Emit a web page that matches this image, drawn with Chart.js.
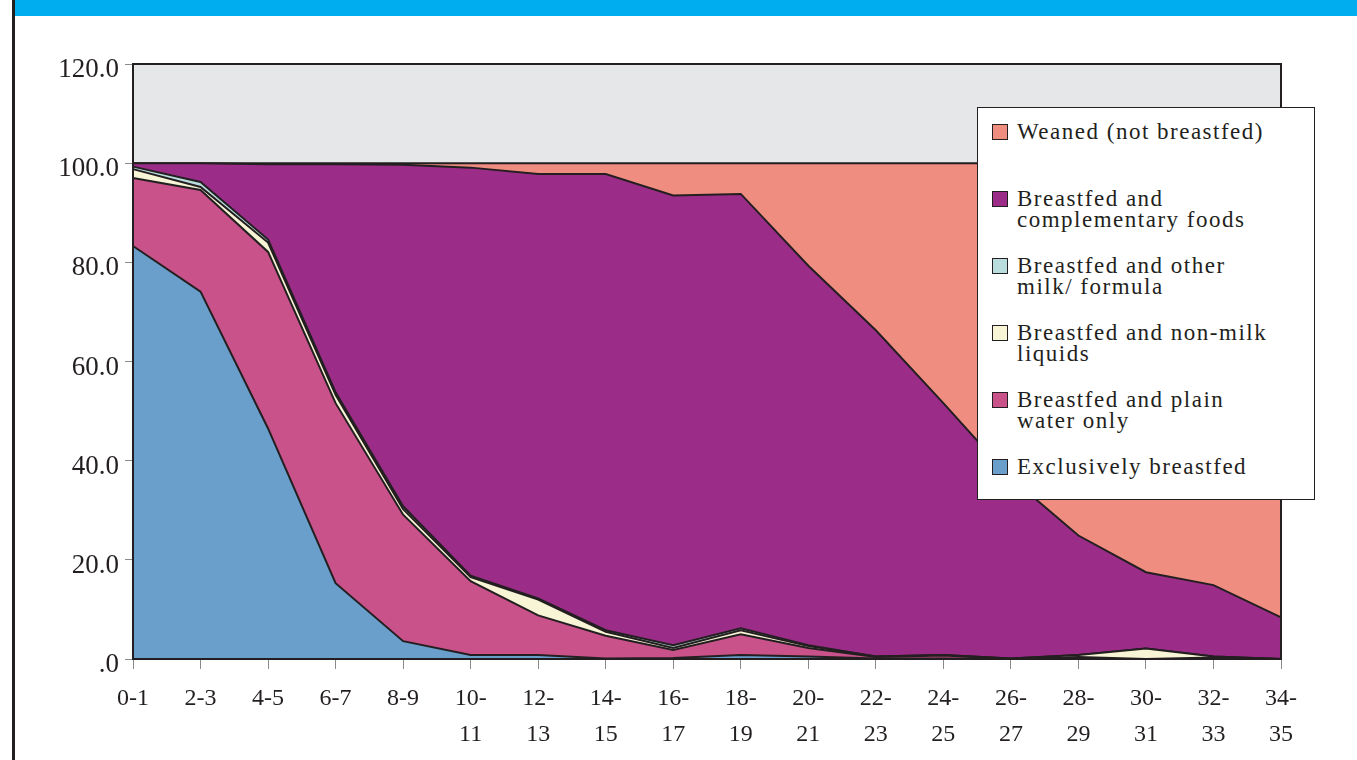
<!DOCTYPE html>
<html>
<head>
<meta charset="utf-8">
<script src="https://cdn.jsdelivr.net/npm/chart.js@4"></script>
<style>
  body { margin: 0; background: #fff; }
  #wrap { position: relative; width: 1357px; height: 760px; overflow: hidden; }
  #topbar { position: absolute; left: 15px; top: 0; width: 1342px; height: 16px; background: #00aeef; }
  #edge { position: absolute; left: 12px; top: 0; width: 3px; height: 760px; background: #231f20; }
  canvas { position: absolute; left: 0; top: 0; }
  #legend { position: absolute; left: 977px; top: 107px; width: 336px; height: 391px; background: #fff;
            border: 1px solid #231f20; font-family: 'Liberation Serif', serif; font-size: 23px;
            letter-spacing: 1.5px; color: #231f20; }
  .item { position: absolute; left: 39px; line-height: 21px; }
  .sw { position: absolute; left: -25px; top: 3px; width: 14px; height: 14px; border: 1.5px solid #231f20; }
</style>
</head>
<body>
<div id="wrap">
  <div id="topbar"></div>
  <div id="edge"></div>
  <canvas id="feedChart" width="1357" height="760"></canvas>
  <div id="legend"></div>
</div>
<script>
// age groups in months
const ageGroups = ['0-1', '2-3', '4-5', '6-7', '8-9', ['10-', '11'], ['12-', '13'], ['14-', '15'], ['16-', '17'],
    ['18-', '19'], ['20-', '21'], ['22-', '23'], ['24-', '25'], ['26-', '27'], ['28-', '29'], ['30-', '31'],
    ['32-', '33'], ['34-', '35']];

// percent of children in each feeding category (stacked to 100)
const exclusive     = [83.3, 74.1, 46.5, 15.3, 3.6, 0.8, 0.8, 0.1, 0.2, 0.8, 0.5, 0.1, 0.1, 0.0, 0.0, 0.0, 0.0, 0.0];
const plainWater    = [13.7, 20.5, 35.6, 36.3, 25.5, 14.9, 8.0, 4.6, 1.6, 4.2, 1.7, 0.3, 0.6, 0.0, 0.4, 0.0, 0.3, 0.0];
const nonMilk       = [1.8, 0.6, 1.9, 1.7, 1.1, 0.8, 3.2, 0.8, 0.4, 0.8, 0.4, 0.1, 0.1, 0.1, 0.4, 2.1, 0.2, 0.0];
const otherMilk     = [0.5, 1.0, 0.6, 0.5, 0.6, 0.3, 0.2, 0.3, 0.6, 0.4, 0.2, 0.0, 0.0, 0.0, 0.0, 0.0, 0.0, 0.0];
const complementary = [0.7, 3.8, 15.2, 46.0, 68.9, 82.3, 85.6, 92.0, 90.7, 87.6, 76.5, 65.8, 50.8, 36.4, 24.1, 15.4, 14.4, 8.4];
const weaned        = [0.0, 0.0, 0.2, 0.2, 0.3, 0.9, 2.2, 2.2, 6.5, 6.2, 20.7, 33.7, 48.4, 63.5, 75.1, 82.5, 85.1, 91.6];

const yTicks = [0, 20, 40, 60, 80, 100, 120];

const series = [
    { label: 'Exclusively breastfed', data: exclusive, color: '#6a9fcb' },
    { label: 'Breastfed and plain water only', data: plainWater, color: '#c85289' },
    { label: 'Breastfed and non-milk liquids', data: nonMilk, color: '#f8f4d6' },
    { label: 'Breastfed and other milk/ formula', data: otherMilk, color: '#b9dcdd' },
    { label: 'Breastfed and complementary foods', data: complementary, color: '#9b2d89' },
    { label: 'Weaned (not breastfed)', data: weaned, color: '#ee8d80' }
];

// legend text split the way the original wraps it
const legendLines = {
    'Breastfed and complementary foods': ['Breastfed and', 'complementary foods'],
    'Breastfed and other milk/ formula': ['Breastfed and other', 'milk/ formula'],
    'Breastfed and non-milk liquids': ['Breastfed and non-milk', 'liquids'],
    'Breastfed and plain water only': ['Breastfed and plain', 'water only']
};

const plotBackground = {
    id: 'plotBackground',
    beforeDraw(chart) {
        const a = chart.chartArea, ctx = chart.ctx;
        ctx.save();
        ctx.fillStyle = '#e6e7e9';
        ctx.fillRect(a.left, a.top, a.right - a.left, a.bottom - a.top);
        ctx.restore();
    },
    afterDatasetsDraw(chart) {
        const a = chart.chartArea, ctx = chart.ctx;
        ctx.save();
        ctx.strokeStyle = '#231f20';
        ctx.lineWidth = 2;
        ctx.strokeRect(a.left, a.top, a.right - a.left, a.bottom - a.top);
        ctx.restore();
    }
};

const ctx = document.getElementById('feedChart').getContext('2d');
new Chart(ctx, {
    type: 'line',
    data: {
        labels: ageGroups,
        datasets: series.map((s, i) => ({
            label: s.label,
            data: s.data,
            backgroundColor: s.color,
            borderColor: '#231f20',
            borderWidth: 2,
            pointRadius: 0,
            tension: 0,
            fill: i === 0 ? 'origin' : '-1'
        }))
    },
    options: {
        responsive: false,
        animation: false,
        layout: { padding: { top: 64, right: 76, left: 0, bottom: 0 } },
        plugins: { legend: { display: false }, tooltip: { enabled: false } },
        scales: {
            x: {
                grid: { drawOnChartArea: false, tickLength: 10, color: '#8a8a8a' },
                border: { color: '#231f20', width: 2 },
                ticks: {
                    autoSkip: false, maxRotation: 0, padding: 12, color: '#231f20',
                    font: { family: 'Liberation Serif', size: 24, lineHeight: 1.5 }
                },
                afterFit(scale) { scale.height = 101; }
            },
            y: {
                stacked: true,
                min: 0,
                max: 120,
                afterBuildTicks(scale) { scale.ticks = yTicks.map(v => ({ value: v })); },
                grid: { drawOnChartArea: false, tickLength: 8, color: '#8a8a8a' },
                border: { color: '#231f20', width: 2 },
                ticks: {
                    padding: 6, labelOffset: 6, color: '#231f20',
                    font: { family: 'Liberation Serif', size: 27 },
                    callback: v => v === 0 ? '.0' : v.toFixed(1)
                },
                afterFit(scale) { scale.width = 133; }
            }
        }
    },
    plugins: [plotBackground]
});

// legend box, top entry first
const legend = document.getElementById('legend');
series.slice().reverse().forEach((s, i) => {
    const item = document.createElement('div');
    item.className = 'item';
    item.style.top = (13 + i * 67) + 'px';
    const sw = document.createElement('span');
    sw.className = 'sw';
    sw.style.background = s.color;
    item.appendChild(sw);
    const lines = legendLines[s.label] || [s.label];
    item.innerHTML += lines.join('<br>');
    legend.appendChild(item);
});
</script>
</body>
</html>
